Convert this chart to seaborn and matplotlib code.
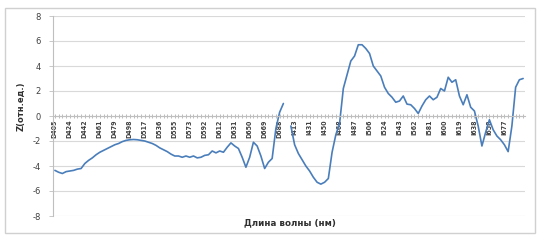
import matplotlib
matplotlib.use("Agg")
import matplotlib.pyplot as plt
import seaborn as sns
import numpy as np
import pandas as pd
from matplotlib.patches import Rectangle

# ---- data ----
tick_labels = ["D405", "D424", "D442", "D461", "D479", "D498", "D517", "D536",
               "D555", "D573", "D592", "D612", "D631", "D650", "D669", "D688",
               "I413", "I431", "I450", "I468", "I487", "I506", "I524", "I543",
               "I562", "I581", "I600", "I619", "I638", "I658", "I677"]
points_per_label = 4

series_d = [-4.35, -4.5, -4.6, -4.45, -4.4, -4.35, -4.25, -4.2, -3.8, -3.55,
            -3.35, -3.1, -2.9, -2.75, -2.6, -2.45, -2.3, -2.2, -2.05, -1.95,
            -1.9, -1.88, -1.9, -1.95, -2.0, -2.1, -2.2, -2.35, -2.55, -2.7,
            -2.85, -3.05, -3.2, -3.2, -3.3, -3.2, -3.3, -3.2, -3.35, -3.3,
            -3.15, -3.1, -2.8, -2.95, -2.8, -2.9, -2.5, -2.15, -2.4, -2.6,
            -3.3, -4.1, -3.3, -2.1, -2.4, -3.2, -4.2, -3.7, -3.4, -1.0,
            0.3, 1.0]
gap = 1
series_i = [-0.8, -2.3, -3.0, -3.5, -4.0, -4.4, -4.9, -5.3, -5.45, -5.3,
            -5.0, -2.9, -1.5, -0.6, 2.2, 3.3, 4.4, 4.8, 5.7, 5.7,
            5.4, 5.0, 4.0, 3.6, 3.2, 2.3, 1.8, 1.5, 1.1, 1.2,
            1.6, 0.95, 0.9, 0.6, 0.2, 0.8, 1.3, 1.6, 1.3, 1.5,
            2.2, 2.0, 3.1, 2.7, 2.9, 1.6, 0.9, 1.7, 0.7, 0.4,
            -0.8, -2.4, -1.3, -0.3, -1.1, -1.6, -1.9, -2.3, -2.85, -0.8,
            2.3, 2.9, 3.0]

y_ticks = [-8, -6, -4, -2, 0, 2, 4, 6, 8]
x_title = "Длина волны (нм)"
y_title = "Z(отн.ед.)"

# ---- frames ----
x_d = np.arange(len(series_d))
x_i = np.arange(len(series_i)) + len(series_d) + gap
df_d = pd.DataFrame({"x": x_d, "z": series_d})
df_i = pd.DataFrame({"x": x_i, "z": series_i})
n_total = len(series_d) + gap + len(series_i)

sns.set_theme(style="white")
plt.rcParams["font.family"] = ["DejaVu Sans"]

fig = plt.figure(figsize=(5.43, 2.42), dpi=100)
ax = fig.add_axes([53 / 543, 1 - 216 / 242, (525 - 53) / 543, 200 / 242])

line_color = "#4a7ebb"
sns.lineplot(data=df_d, x="x", y="z", ax=ax, color=line_color, linewidth=1.2)
sns.lineplot(data=df_i, x="x", y="z", ax=ax, color=line_color, linewidth=1.2)

ax.set_xlim(-0.5, n_total - 0.5)
ax.set_ylim(-8, 8)
ax.set_yticks(y_ticks)
ax.set_yticklabels([str(v) for v in y_ticks])
ax.yaxis.grid(True, color="#d9d9d9", linewidth=0.8)
ax.xaxis.grid(False)

for s in ["top", "right"]:
    ax.spines[s].set_visible(False)
ax.spines["left"].set_color("#bfbfbf")
ax.spines["left"].set_linewidth(0.8)
ax.spines["bottom"].set_position(("data", 0))
ax.spines["bottom"].set_color("#bfbfbf")
ax.spines["bottom"].set_linewidth(0.8)

major_pos = np.arange(len(tick_labels)) * points_per_label
ax.set_xticks(major_pos)
ax.set_xticklabels(tick_labels, rotation=90, fontsize=5.0,
                   fontweight="bold", color="#404040",
                   family=["DejaVu Sans"], fontstretch="condensed")
ax.set_xticks(np.arange(n_total), minor=True)
ax.tick_params(axis="x", which="both", direction="inout", length=2.5,
               width=0.5, color="#a0a0a0", pad=1, bottom=True)
ax.tick_params(axis="y", which="major", direction="out", length=3,
               width=0.6, color="#bfbfbf", labelsize=6, labelcolor="#404040",
               pad=6, left=True)

ax.set_xlabel("")
ax.set_ylabel(y_title, fontsize=6, fontweight="bold", color="#303030")
ax.yaxis.set_label_coords(-0.058, 0.55)

fig.text(290 / 543, 1 - 223 / 242, x_title, ha="center", va="center",
         fontsize=6.3, fontweight="bold", color="#303030")

fig.patches.append(Rectangle((5 / 543, 1 - 233 / 242), 530 / 543, 225 / 242,
                             transform=fig.transFigure, fill=False,
                             edgecolor="#d0d0d0", linewidth=1.0))

fig.savefig("out.png", dpi=100)
